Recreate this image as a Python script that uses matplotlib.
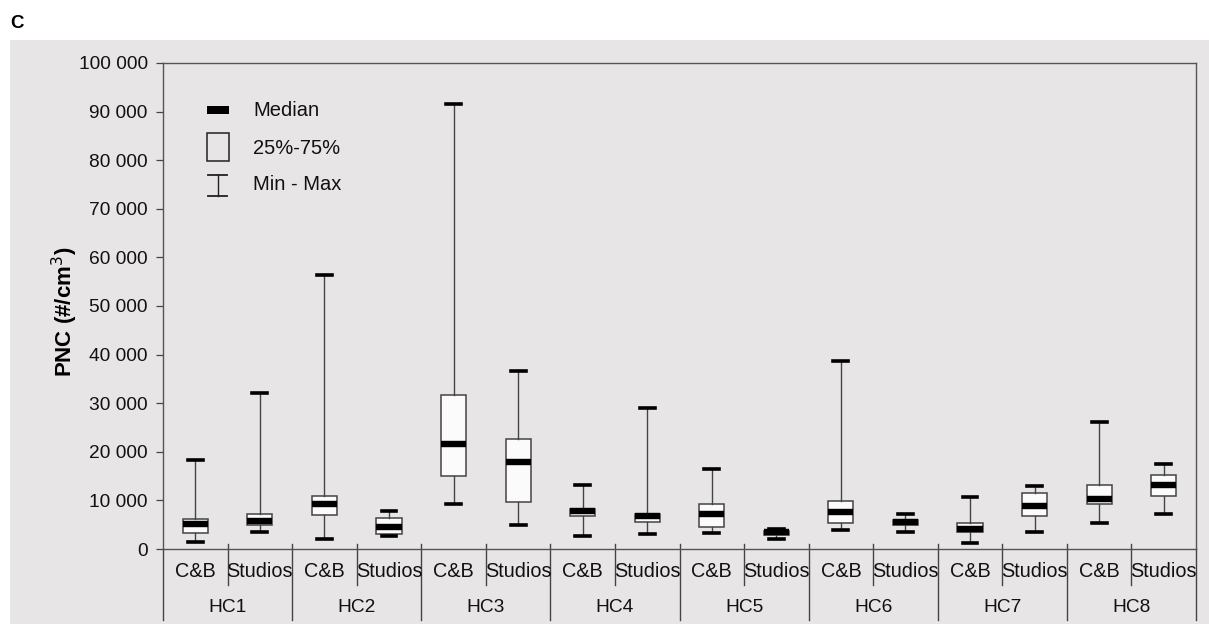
import matplotlib.pyplot as plt
from matplotlib.patches import Rectangle
from matplotlib.ticker import FuncFormatter
import matplotlib.transforms as mtransforms

plt.rcParams['font.family'] = ['Liberation Sans', 'DejaVu Sans']

groups = ["HC1", "HC2", "HC3", "HC4", "HC5", "HC6", "HC7", "HC8"]
sites = ["C&B", "Studios"]

# PNC (#/cm3), one entry per box: HC1 C&B, HC1 Studios, HC2 C&B, ...
pnc_min = [1500, 3500, 2100, 2700, 9300, 4900, 2700, 3100,
           3200, 2100, 4000, 3600, 1200, 3600, 5300, 7300]
pnc_q1 = [3200, 4900, 6900, 3100, 15000, 9700, 6800, 5600,
          4500, 2900, 5300, 5000, 3400, 6700, 9200, 10900]
pnc_med = [5100, 5800, 9300, 4500, 21600, 17800, 7800, 6800,
           7300, 3400, 7600, 5500, 4200, 8900, 10200, 13100]
pnc_q3 = [6100, 7300, 11000, 6300, 31700, 22600, 8200, 7200,
          9300, 3800, 9800, 6000, 5300, 11500, 13200, 15200]
pnc_max = [18300, 32000, 56300, 7800, 91600, 36700, 13200, 29000,
           16500, 4100, 38700, 7300, 10600, 12900, 26200, 17500]

bg = '#e7e5e5'
edge = '#444444'

fig = plt.figure(figsize=(12.09, 6.24), dpi=100)
fig.patches.append(Rectangle((10 / 1209, 0), 1 - 10 / 1209, 1 - 40 / 624,
                             transform=fig.transFigure, facecolor=bg,
                             edgecolor='none', zorder=-1))
fig.text(10 / 1209, 1 - 24 / 624, "C", fontsize=13.5, fontweight='bold', va='center')

ax = fig.add_axes([163 / 1209, 1 - 549 / 624, 1033 / 1209, 486 / 624])
ax.set_zorder(1)
ax.patch.set_visible(False)

stats = []
for i in range(len(pnc_med)):
    stats.append(dict(med=pnc_med[i], q1=pnc_q1[i], q3=pnc_q3[i],
                      whislo=pnc_min[i], whishi=pnc_max[i], fliers=[]))
positions = [i + 0.5 for i in range(len(stats))]

ax.bxp(stats, positions=positions, widths=0.39, capwidths=0.23,
       showfliers=False, patch_artist=True,
       boxprops=dict(facecolor='#fbfbfb', edgecolor=edge, linewidth=1.1),
       whiskerprops=dict(color=edge, linewidth=1.0),
       capprops=dict(color='black', linewidth=2.6),
       medianprops=dict(color='black', linewidth=4.6, solid_capstyle='butt'))

ax.set_xlim(0, 16)
ax.set_ylim(0, 100000)
ax.set_yticks(range(0, 100001, 10000))
ax.yaxis.set_major_formatter(FuncFormatter(lambda v, p: f"{int(v):,}".replace(",", " ")))
ax.tick_params(axis='y', direction='out', length=5, width=0.9, color=edge,
               labelsize=13.8, pad=6, labelcolor='#111111')
ax.set_xticks([])
for s in ax.spines.values():
    s.set_color('#555555')
    s.set_linewidth(1.0)

# two-level category axis below the plot
trans = mtransforms.blended_transform_factory(ax.transData, ax.transAxes)
for i, x in enumerate(positions):
    ax.text(x, -0.047, sites[i % 2], transform=trans, ha='center', va='center',
            fontsize=14.3, color='#111111')
for g, name in enumerate(groups):
    ax.text(2 * g + 1, -0.121, name, transform=trans, ha='center', va='center',
            fontsize=13.8, color='#111111')
for k in range(17):
    if k % 2:
        ax.plot([k, k], [0.010, -0.074], transform=trans, color=edge, lw=1.0, clip_on=False)
    else:
        ax.plot([k, k], [0.010 if 0 < k < 16 else 0, -0.146], transform=trans,
                color=edge, lw=1.0, clip_on=False)

fig.text(65 / 1209, 1 - 312 / 624, "PNC (#/cm$^3$)", rotation=90, fontsize=16,
         fontweight='bold', ha='center', va='center')

# hand-drawn key in the upper left
def ax_xy(px, py):
    return (px - 163) / 1033, (549 - py) / 486

x0, y0 = ax_xy(207, 110)
x1, _ = ax_xy(229, 110)
ax.add_patch(Rectangle((x0, ax_xy(0, 114)[1]), x1 - x0, 8 / 486, transform=ax.transAxes,
                       facecolor='black', edgecolor='none'))
ax.add_patch(Rectangle((x0, ax_xy(0, 161)[1]), x1 - x0, 28 / 486, transform=ax.transAxes,
                       facecolor='none', edgecolor='#222222', lw=1.1))
xc, _ = ax_xy(218, 0)
_, yt = ax_xy(0, 175)
_, yb = ax_xy(0, 196)
ax.plot([xc, xc], [yb, yt], transform=ax.transAxes, color='#222222', lw=1.0)
ax.plot([x0 + 0.001, x1 - 0.002], [yt, yt], transform=ax.transAxes, color='#222222', lw=1.3)
ax.plot([x0 + 0.001, x1 - 0.002], [yb, yb], transform=ax.transAxes, color='#222222', lw=1.3)
tx, _ = ax_xy(253, 0)
for label, py in [("Median", 111), ("25%-75%", 148), ("Min - Max", 184)]:
    ax.text(tx, ax_xy(0, py)[1], label, transform=ax.transAxes, fontsize=14.5,
            va='center', ha='left', color='#111111')

fig.savefig("out.png", dpi=100)
